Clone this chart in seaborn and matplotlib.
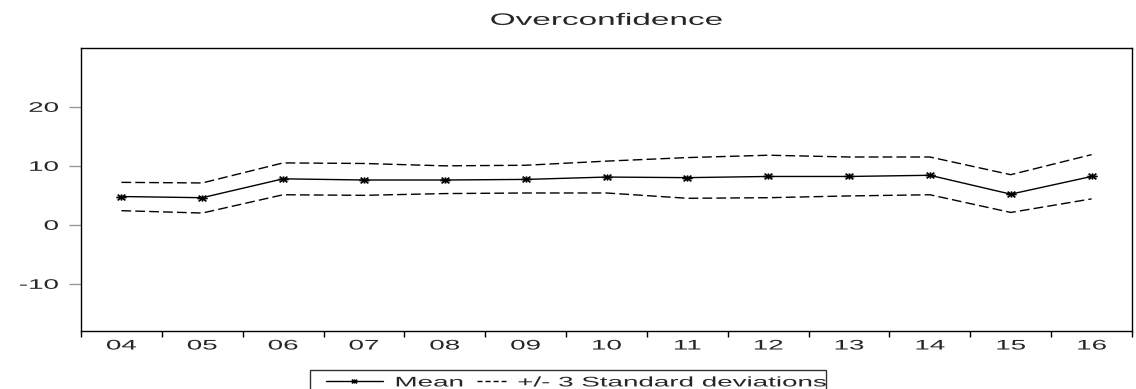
import numpy as np
import pandas as pd
import matplotlib.pyplot as plt
import matplotlib.patheffects as pe
import seaborn as sns
from matplotlib.lines import Line2D
from matplotlib.path import Path
from matplotlib.transforms import Affine2D
from matplotlib.legend_handler import HandlerLine2D

# values
years = ["04", "05", "06", "07", "08", "09", "10", "11", "12", "13", "14", "15", "16"]
mean = [4.8, 4.6, 7.8, 7.6, 7.6, 7.7, 8.1, 8.0, 8.2, 8.2, 8.4, 5.2, 8.2]
upper = [7.2, 7.1, 10.5, 10.4, 10.0, 10.1, 10.8, 11.4, 11.8, 11.5, 11.5, 8.5, 11.9]
lower = [2.4, 2.0, 5.1, 5.0, 5.3, 5.4, 5.4, 4.5, 4.6, 4.9, 5.1, 2.1, 4.4]

df = pd.DataFrame({"pos": np.arange(len(years)), "year": years,
                   "mean": mean, "upper": upper, "lower": lower})


class Squash(pe.AbstractPathEffect):
    """Draw text at half height (the source chart has wide, flat lettering)."""

    def __init__(self, sy=0.5, y0=36):
        super().__init__()
        self.sy = sy
        self.y0 = y0  # middle of the cap height, in text-path units

    def draw_path(self, renderer, gc, tpath, affine, rgbFace=None):
        squash = Affine2D().translate(0, -self.y0).scale(1, self.sy).translate(0, self.y0)
        renderer.draw_path(gc, tpath, squash + affine, rgbFace)


flat = [Squash()]

# wide asterisk marker
star = Path([(-1, 0), (1, 0), (-0.75, -0.55), (0.75, 0.55),
             (-0.75, 0.55), (0.75, -0.55), (0, -0.6), (0, 0.6)],
            [Path.MOVETO, Path.LINETO] * 4)

sns.set_style("white")
plt.rcParams["font.family"] = ["Liberation Sans", "DejaVu Sans"]

fig, ax = plt.subplots(figsize=(11.36, 3.89), dpi=100)
fig.subplots_adjust(left=0.0713, right=0.9965, top=0.877, bottom=0.149)

sns.lineplot(data=df, x="pos", y="mean", ax=ax, color="black", lw=1,
             marker=star, markersize=7.5, markeredgewidth=1.2, markeredgecolor="black")
for col in ["upper", "lower"]:
    sns.lineplot(data=df, x="pos", y=col, ax=ax, color="black", lw=1)
for l in ax.lines[1:]:
    l.set_dashes((7, 3))

ax.set_xlim(-0.5, len(years) - 0.5)
ax.set_ylim(-18, 30)
ax.set_yticks([-10, 0, 10, 20])
ax.set_yticklabels(["-10", "0", "10", "20"], fontsize=20)
ax.tick_params(axis="y", direction="out", length=8.6, width=1, color="#999999",
               left=True, pad=7.2)

# tick marks between categories, labels in the middle
ax.set_xticks(np.arange(len(years) + 1) - 0.5)
ax.set_xticklabels([])
ax.set_xticks(df["pos"], minor=True)
ax.set_xticklabels(years, minor=True, fontsize=20)
ax.tick_params(axis="x", which="major", direction="out", length=4.5, width=1,
               color="black", bottom=True)
ax.tick_params(axis="x", which="minor", length=0, pad=2.5)

ax.set_xlabel("")
ax.set_ylabel("")
for s in ax.spines.values():
    s.set_color("black")
    s.set_linewidth(1)

title = ax.set_title("Overconfidence", fontsize=24, pad=12.2)
title.set_path_effects(flat)
for t in ax.get_yticklabels() + ax.get_xticklabels(minor=True):
    t.set_path_effects(flat)

h_mean = Line2D([], [], color="black", lw=1, marker=star, markersize=5,
                markeredgewidth=1, markeredgecolor="black")
h_band = Line2D([], [], color="black", lw=1, dashes=(3.6, 2.2))
leg = fig.legend([h_mean, h_band], ["Mean", "+/- 3 Standard deviations"],
                 loc="upper center", bbox_to_anchor=(0.5, 1 - 370 / 389), ncol=2,
                 fontsize=20, frameon=True, fancybox=False, edgecolor="black",
                 handlelength=2.63, handleheight=1.07, handletextpad=0.42,
                 columnspacing=-1.12, borderpad=0.0, borderaxespad=0.0, numpoints=1,
                 handler_map={h_mean: HandlerLine2D(xpad=0.58),
                              h_band: HandlerLine2D(xpad=1.6)})
leg.get_frame().set_linewidth(1)
for t in leg.get_texts():
    t.set_path_effects([Squash(y0=44)])

fig.savefig("out.png", dpi=100)
